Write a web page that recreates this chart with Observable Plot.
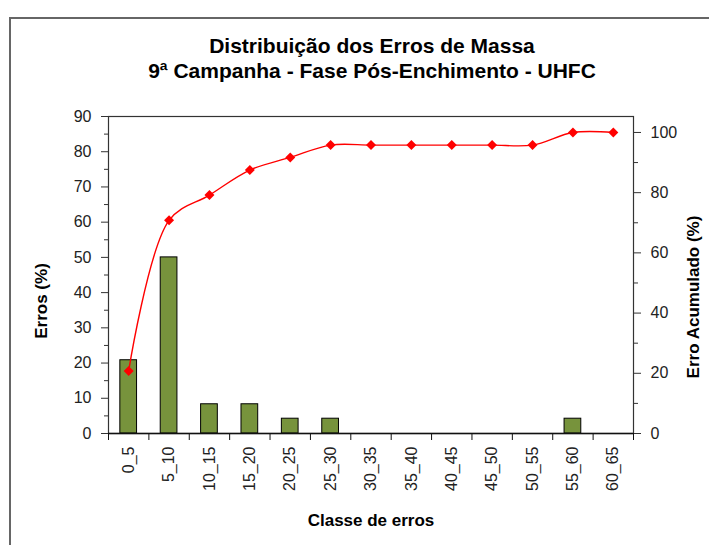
<!DOCTYPE html>
<html><head><meta charset="utf-8">
<script src="https://cdn.jsdelivr.net/npm/d3@7"></script>
<script src="https://cdn.jsdelivr.net/npm/@observablehq/plot@0.6"></script>
<style>
body{margin:0;background:#fff;font-family:"Liberation Sans",Arial,sans-serif;}
#wrap{position:relative;width:709px;height:545px;overflow:hidden;background:#fff;}
#border{position:absolute;left:9px;top:17px;width:720px;height:560px;border:2px solid #666;}
.t{position:absolute;left:0;width:744px;text-align:center;font-weight:bold;font-size:21px;line-height:24px;color:#000;white-space:nowrap;}
#chart{position:absolute;left:0;top:90px;}
</style></head><body>
<div id="wrap">
<div id="border"></div>
<div class="t" style="top:34px">Distribuição dos Erros de Massa</div>
<div class="t" style="top:59px">9ª Campanha - Fase Pós-Enchimento - UHFC</div>
<div id="chart"></div>
</div>
<script>
const classes = ["0_5","5_10","10_15","15_20","20_25","25_30","30_35","35_40","40_45","45_50","50_55","55_60","60_65"];
const erros = [20.8, 50.0, 8.3, 8.3, 4.2, 4.2, 0, 0, 0, 0, 0, 4.2, 0];
const acumulado = [20.8, 70.8, 79.2, 87.5, 91.7, 95.8, 95.8, 95.8, 95.8, 95.8, 95.8, 100, 100];
const leftTicks = [0,10,20,30,40,50,60,70,80,90];
const leftMinor = [5,15,25,35,45,55,65,75,85];
const rightTicks = [0,20,40,60,80,100];
const rightMinor = [10,30,50,70,90];
const leftMax = 90;
const rightMax = 105.3;
const k = leftMax / rightMax;

const idx = classes.map((c, i) => i);
const bars = idx.filter(i => erros[i] > 0).map(i => ({i, v: erros[i]}));
const cum = idx.map(i => ({i, c: acumulado[i]}));
const bounds = idx.map(i => i - 0.5).concat([classes.length - 0.5]);
const halfBar = 0.207;

const chart = Plot.plot({
  width: 709, height: 455,
  marginTop: 26, marginBottom: 112, marginLeft: 108, marginRight: 76,
  style: {fontFamily: "'Liberation Sans', Arial, sans-serif", fontSize: "16px", color: "#222", background: "transparent"},
  x: {type: "linear", domain: [-0.5, classes.length - 0.5], axis: null},
  y: {domain: [0, leftMax], axis: null},
  marks: [
    Plot.rectY(bars, {x1: d => d.i - halfBar, x2: d => d.i + halfBar, y: "v", fill: "#77933C", stroke: "#000", strokeWidth: 1}),
    Plot.line(cum, {x: "i", y: d => d.c * k, stroke: "#FF0000", strokeWidth: 1.4, curve: "catmull-rom"}),
    Plot.dot(cum, {x: "i", y: d => d.c * k, symbol: "diamond2", r: 4.5, fill: "#FF0000", stroke: "none"}),
    Plot.frame({stroke: "#333", strokeWidth: 1.2}),
    Plot.axisY(leftTicks, {anchor: "left", label: null, tickSize: 7, tickPadding: 10, fontSize: 16, stroke: "#333"}),
    Plot.axisY(leftMinor, {anchor: "left", label: null, tickSize: 4, tickFormat: () => "", stroke: "#333"}),
    Plot.axisY(rightTicks.map(v => v * k), {anchor: "right", label: null, tickSize: 7, tickPadding: 10, fontSize: 16, stroke: "#333", tickFormat: d => String(Math.round(d / k))}),
    Plot.axisY(rightMinor.map(v => v * k), {anchor: "right", label: null, tickSize: 4, tickFormat: () => "", stroke: "#333"}),
    Plot.axisX(bounds, {anchor: "bottom", label: null, tickSize: 7, tickFormat: () => "", stroke: "#111"}),
    Plot.axisX(idx, {anchor: "bottom", label: null, tickSize: 0, tickPadding: 13, tickRotate: -90, fontSize: 16, tickFormat: i => classes[i]}),
    Plot.ruleY([0], {stroke: "#111", strokeWidth: 1.5}),
    Plot.text(["Erros (%)"], {text: d => d, frameAnchor: "left", textAnchor: "middle", dx: -67, dy: 26, rotate: -90, fontSize: 17, fontWeight: "bold", fill: "#000"}),
    Plot.text(["Erro Acumulado (%)"], {text: d => d, frameAnchor: "right", textAnchor: "middle", dx: 60, dy: 22, rotate: -90, fontSize: 17, fontWeight: "bold", fill: "#000"}),
    Plot.text(["Classe de erros"], {text: d => d, frameAnchor: "bottom", dy: 92, fontSize: 17, fontWeight: "bold", fill: "#000"})
  ]
});
document.getElementById("chart").appendChild(chart);
</script>
</body></html>
